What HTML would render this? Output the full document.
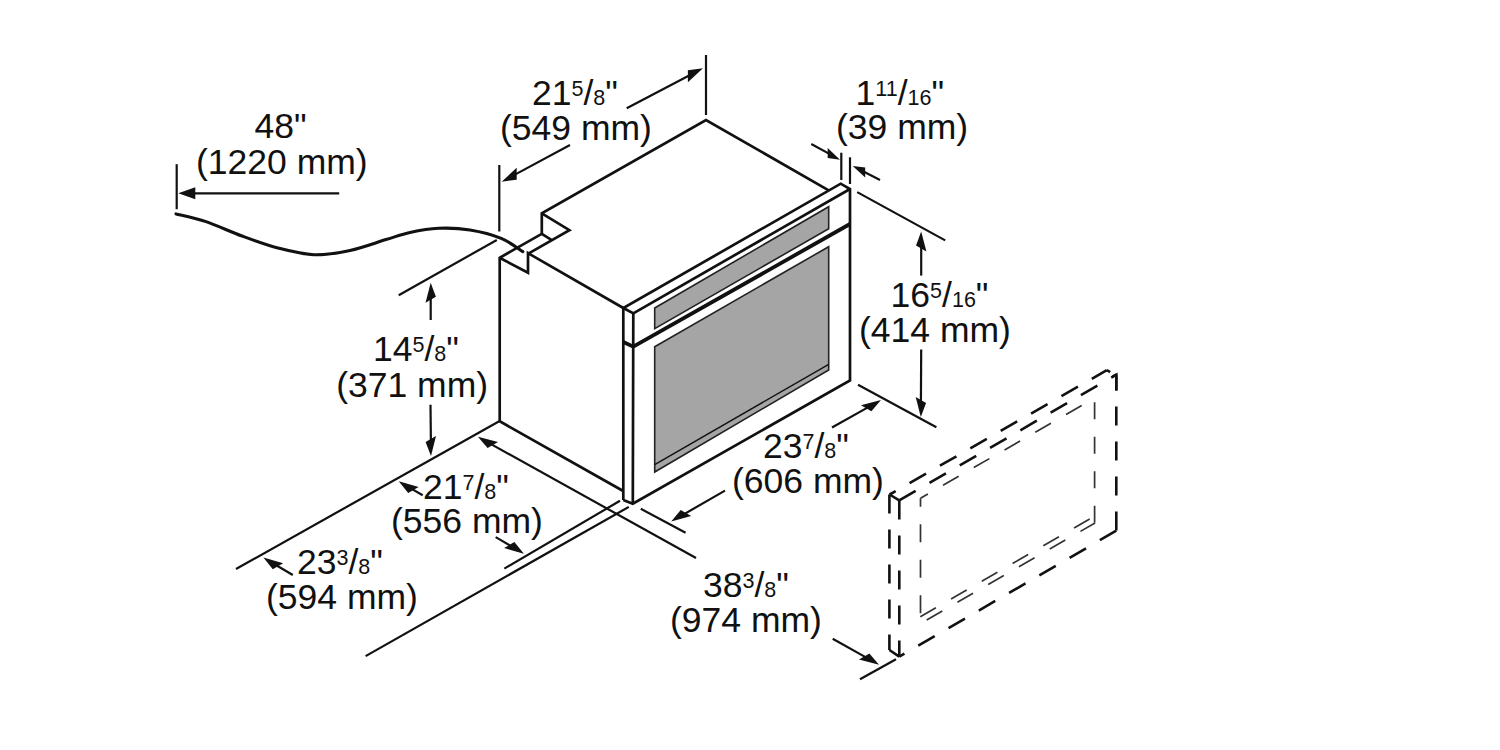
<!DOCTYPE html>
<html><head><meta charset="utf-8"><style>
html,body{margin:0;padding:0;background:#fff;width:1500px;height:750px;overflow:hidden}
svg{display:block}
</style></head><body>
<svg width="1500" height="750" viewBox="0 0 1500 750">
<rect width="1500" height="750" fill="#fff"/>
<g stroke="#111" stroke-linecap="butt" stroke-linejoin="miter" fill="none">
<polygon points="654.7,308 828.7,206.7 828.7,228.7 654.7,328.7" fill="#a5a5a5" stroke="#222" stroke-width="1.6"/>
<polygon points="654.7,346.7 828.7,246.7 828.7,370 654.7,472" fill="#a5a5a5" stroke="#222" stroke-width="1.6"/>
<line x1="654.7" y1="464.7" x2="828.7" y2="364.3" stroke-width="1.4" />
<polyline points="828.7,190.4 706.0,120.0 541.8,213.4 541.8,233.8 499.7,257.8 499.7,421.3 623.2,491.0" stroke-width="2.7" fill="none" />
<polyline points="541.8,213.4 569.4,230.2 529.2,253.2" stroke-width="2.7" fill="none" />
<line x1="541.8" y1="233.8" x2="551.4" y2="239.8" stroke-width="2.7" />
<polyline points="499.7,257.8 528.0,272.8 528.0,253.2 623.3,308.0" stroke-width="2.7" fill="none" />
<polyline points="623.3,500.0 623.3,308.0 840.7,183.7 850.0,189.0 850.0,380.5 632.8,503.7 623.3,500.0" stroke-width="2.7" fill="none" />
<polyline points="623.3,308.0 633.3,313.3 632.8,503.7" stroke-width="2.7" fill="none" />
<line x1="633.3" y1="313.3" x2="850.0" y2="189.0" stroke-width="2.7" />
<polyline points="623.3,342.0 633.3,346.7 850.0,224.0" stroke-width="3.8" fill="none" />
<path d="M176,213.9 C181.0,215.2 195.0,217.9 206,221.6 C217.0,225.3 230.0,231.6 242,236 C254.0,240.4 266.0,244.9 278,248 C290.0,251.1 302.0,254.3 314,254.7 C326.0,255.1 338.0,252.9 350,250.4 C362.0,247.9 376.0,242.6 386,239.6 C396.0,236.6 401.2,234.3 410,232.4 C418.8,230.5 428.8,228.7 438.8,228.3 C448.8,227.9 459.6,228.3 470,230 C480.4,231.7 492.4,234.8 501.2,238.4 C510.0,242.0 519.2,249.4 522.8,251.6" fill="none" stroke-width="3.1" stroke-linecap="round"/>
<line x1="176.7" y1="164.2" x2="176.7" y2="209.2" stroke-width="2.2" />
<line x1="339.2" y1="193.3" x2="192.3" y2="193.3" stroke-width="2.2" />
<polygon points="178.3,193.3 195.3,199.3 195.3,187.3" fill="#111" stroke="none"/>
<line x1="499.3" y1="165.0" x2="499.3" y2="231.5" stroke-width="2.2" />
<line x1="706.0" y1="55.0" x2="706.0" y2="115.0" stroke-width="2.2" />
<line x1="570.0" y1="145.0" x2="514.0" y2="175.1" stroke-width="2.2" />
<polygon points="501.7,181.7 516.7,179.7 516.7,167.7" fill="#111" stroke="none"/>
<line x1="626.7" y1="108.3" x2="690.6" y2="74.8" stroke-width="2.2" />
<polygon points="703.0,68.3 687.9,82.2 687.9,70.2" fill="#111" stroke="none"/>
<line x1="841.3" y1="152.7" x2="841.3" y2="180.0" stroke-width="2.2" />
<line x1="850.0" y1="157.3" x2="850.0" y2="184.0" stroke-width="2.2" />
<line x1="811.3" y1="144.0" x2="830.3" y2="154.4" stroke-width="2.2" />
<polygon points="840.0,159.7 827.7,158.0 827.7,148.0" fill="#111" stroke="none"/>
<line x1="880.0" y1="180.0" x2="862.5" y2="171.0" stroke-width="2.2" />
<polygon points="852.7,166.0 865.2,177.4 865.2,167.4" fill="#111" stroke="none"/>
<line x1="857.2" y1="192.1" x2="945.2" y2="240.4" stroke-width="2.2" />
<line x1="858.0" y1="384.8" x2="936.4" y2="427.2" stroke-width="2.2" />
<line x1="921.2" y1="275.6" x2="921.2" y2="245.6" stroke-width="2.2" />
<polygon points="921.2,231.6 926.4,251.6 916.0,245.6" fill="#111" stroke="none"/>
<line x1="921.2" y1="349.6" x2="920.9" y2="403.0" stroke-width="2.2" />
<polygon points="920.8,417.0 926.1,403.0 915.7,397.0" fill="#111" stroke="none"/>
<line x1="832.0" y1="427.5" x2="868.8" y2="406.9" stroke-width="2.2" />
<polygon points="881.0,400.0 871.4,411.3 861.0,405.3" fill="#111" stroke="none"/>
<line x1="725.0" y1="490.6" x2="683.3" y2="514.6" stroke-width="2.2" />
<polygon points="671.2,521.6 691.1,516.1 680.7,510.1" fill="#111" stroke="none"/>
<line x1="640.8" y1="508.8" x2="685.6" y2="532.8" stroke-width="2.2" />
<line x1="496.8" y1="240.0" x2="398.7" y2="295.2" stroke-width="2.2" />
<line x1="430.7" y1="320.0" x2="430.7" y2="296.7" stroke-width="2.2" />
<polygon points="430.7,282.7 435.9,296.7 425.5,302.7" fill="#111" stroke="none"/>
<line x1="430.5" y1="404.8" x2="430.9" y2="442.0" stroke-width="2.2" />
<polygon points="431.0,456.0 436.0,436.0 425.6,442.0" fill="#111" stroke="none"/>
<line x1="499.2" y1="421.3" x2="236.0" y2="569.0" stroke-width="2.2" />
<line x1="620.0" y1="500.8" x2="504.3" y2="568.6" stroke-width="2.2" />
<line x1="628.8" y1="506.9" x2="365.6" y2="656.1" stroke-width="2.2" />
<line x1="696.0" y1="558.0" x2="490.1" y2="443.6" stroke-width="2.2" />
<polygon points="477.9,436.8 498.0,442.1 487.6,448.1" fill="#111" stroke="none"/>
<line x1="832.7" y1="638.7" x2="866.8" y2="657.9" stroke-width="2.2" />
<polygon points="879.0,664.8 869.4,653.5 859.0,659.5" fill="#111" stroke="none"/>
<line x1="860.0" y1="679.3" x2="896.0" y2="659.3" stroke-width="2.2" />
<line x1="422.7" y1="495.3" x2="410.8" y2="488.4" stroke-width="2.2" />
<polygon points="398.7,481.3 418.6,486.9 408.2,492.9" fill="#111" stroke="none"/>
<line x1="495.7" y1="537.1" x2="511.8" y2="546.6" stroke-width="2.2" />
<polygon points="523.9,553.7 514.4,542.1 504.1,548.1" fill="#111" stroke="none"/>
<line x1="292.8" y1="575.0" x2="275.4" y2="564.7" stroke-width="2.2" />
<polygon points="263.4,557.6 283.2,563.3 272.8,569.3" fill="#111" stroke="none"/>
<line x1="889.4" y1="494.5" x2="889.4" y2="650.0" stroke-width="2.6" stroke-dasharray="19 16" stroke-dashoffset="0"/>
<line x1="899.3" y1="500.4" x2="899.3" y2="656.7" stroke-width="2.6" stroke-dasharray="19 16" stroke-dashoffset="0"/>
<line x1="889.6" y1="494.5" x2="1106.8" y2="370.2" stroke-width="2.6" stroke-dasharray="19 16" stroke-dashoffset="12"/>
<line x1="899.2" y1="500.4" x2="1116.3" y2="374.7" stroke-width="2.6" stroke-dasharray="19 16" stroke-dashoffset="0"/>
<polyline points="1106.8,370.2 1110.2,372.2" stroke-width="2.6" fill="none" />
<polyline points="1112.6,376.6 1116.3,374.7 1116.3,390.4" stroke-width="2.6" fill="none" />
<line x1="1116.3" y1="374.7" x2="1116.3" y2="530.7" stroke-width="2.6" stroke-dasharray="19 16" stroke-dashoffset="3.3"/>
<line x1="1116.3" y1="530.7" x2="899.3" y2="656.7" stroke-width="2.6" stroke-dasharray="19 16" stroke-dashoffset="0"/>
<polyline points="889.4,650.0 899.3,656.7" stroke-width="2.6" fill="none" />
<polyline points="889.6,494.5 899.2,500.4" stroke-width="2.6" fill="none" />
<line x1="920.5" y1="498.3" x2="1095.0" y2="397.8" stroke-width="1.7" stroke-dasharray="18 17.5" stroke-dashoffset="9.5" stroke="#333"/>
<line x1="920.5" y1="498.3" x2="920.5" y2="616.7" stroke-width="1.7" stroke-dasharray="18 17.5" stroke-dashoffset="9.6" stroke="#333"/>
<line x1="1094.6" y1="522.8" x2="1094.6" y2="397.8" stroke-width="1.7" stroke-dasharray="17 17.5" stroke-dashoffset="0" stroke="#333"/>
<line x1="920.3" y1="616.7" x2="1095.0" y2="516.0" stroke-width="1.7" stroke-dasharray="18 17.5" stroke-dashoffset="0" stroke="#333"/>
<line x1="926.7" y1="620.0" x2="1095.0" y2="523.0" stroke-width="1.7" stroke-dasharray="18 17.5" stroke-dashoffset="0" stroke="#333"/>
</g>
<g style='font-family:"Liberation Sans",sans-serif;fill:#111'>
<text x="254.5" y="138" font-size="35.5">48"</text>
<text x="196" y="173.5" font-size="35.5">(1220 mm)</text>
<text x="532" y="105" font-size="35.5">21<tspan font-size="21.5" dy="-9">5</tspan><tspan font-size="35.5" dy="9">/</tspan><tspan font-size="21.5">8</tspan><tspan font-size="35.5">"</tspan></text>
<text x="500" y="139.8" font-size="35.5">(549 mm)</text>
<text x="855.6" y="104.6" font-size="35.5">1<tspan font-size="21.5" dy="-9">11</tspan><tspan font-size="35.5" dy="9">/</tspan><tspan font-size="21.5">16</tspan><tspan font-size="35.5">"</tspan></text>
<text x="836" y="139.4" font-size="35.5">(39 mm)</text>
<text x="890.6" y="306.7" font-size="35.5">16<tspan font-size="21.5" dy="-9">5</tspan><tspan font-size="35.5" dy="9">/</tspan><tspan font-size="21.5">16</tspan><tspan font-size="35.5">"</tspan></text>
<text x="859" y="342" font-size="35.5">(414 mm)</text>
<text x="373" y="361.2" font-size="35.5">14<tspan font-size="21.5" dy="-9">5</tspan><tspan font-size="35.5" dy="9">/</tspan><tspan font-size="21.5">8</tspan><tspan font-size="35.5">"</tspan></text>
<text x="336.2" y="396.5" font-size="35.5">(371 mm)</text>
<text x="763" y="457.6" font-size="35.5">23<tspan font-size="21.5" dy="-9">7</tspan><tspan font-size="35.5" dy="9">/</tspan><tspan font-size="21.5">8</tspan><tspan font-size="35.5">"</tspan></text>
<text x="732" y="492.8" font-size="35.5">(606 mm)</text>
<text x="423" y="498.7" font-size="35.5">21<tspan font-size="21.5" dy="-9">7</tspan><tspan font-size="35.5" dy="9">/</tspan><tspan font-size="21.5">8</tspan><tspan font-size="35.5">"</tspan></text>
<text x="391" y="533.3" font-size="35.5">(556 mm)</text>
<text x="297" y="573.8" font-size="35.5">23<tspan font-size="21.5" dy="-9">3</tspan><tspan font-size="35.5" dy="9">/</tspan><tspan font-size="21.5">8</tspan><tspan font-size="35.5">"</tspan></text>
<text x="266" y="608.6" font-size="35.5">(594 mm)</text>
<text x="703" y="596.7" font-size="35.5">38<tspan font-size="21.5" dy="-9">3</tspan><tspan font-size="35.5" dy="9">/</tspan><tspan font-size="21.5">8</tspan><tspan font-size="35.5">"</tspan></text>
<text x="670" y="632.1" font-size="35.5">(974 mm)</text>
</g>
</svg>
</body></html>
